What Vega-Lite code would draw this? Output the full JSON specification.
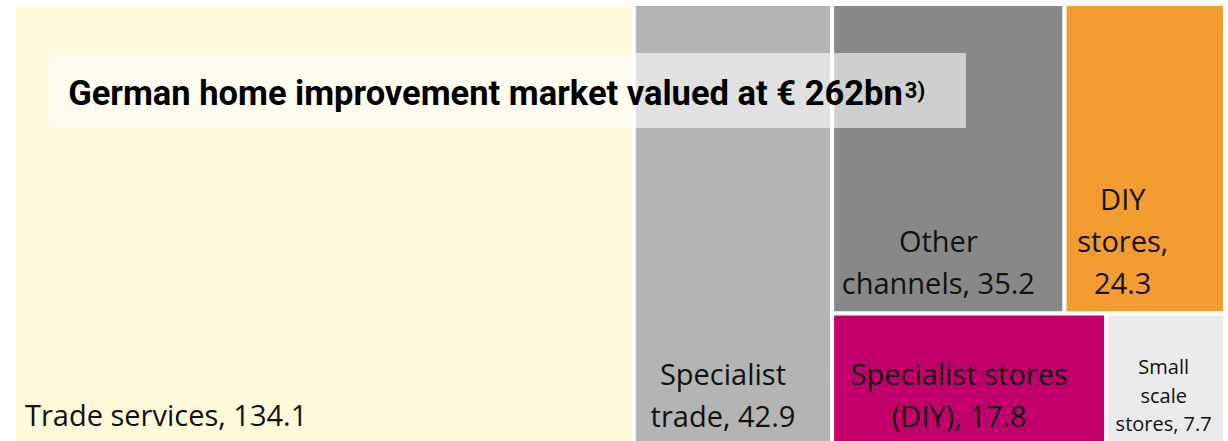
{
  "$schema": "https://vega.github.io/schema/vega-lite/v6.json",
  "width": 1211,
  "height": 442,
  "padding": {"left": 14, "top": 4, "right": 3, "bottom": 0},
  "autosize": {"type": "none"},
  "background": "white",
  "config": {"view": {"stroke": null}},
  "layer": [
    {
      "data": {
        "values": [
          {"name": "Trade services", "value": 134.1, "col": 1, "row": 1, "ord": 1, "label": "Trade services, 134.1"},
          {"name": "Specialist trade", "value": 42.9, "col": 2, "row": 1, "ord": 1, "label": "Specialist\ntrade, 42.9"},
          {"name": "Other channels", "value": 35.2, "col": 3, "row": 1, "ord": 1, "label": "Other\nchannels, 35.2"},
          {"name": "DIY stores", "value": 24.3, "col": 3, "row": 1, "ord": 2, "label": "DIY\nstores,\n24.3"},
          {"name": "Specialist stores (DIY)", "value": 17.8, "col": 3, "row": 2, "ord": 1, "label": "Specialist stores\n(DIY), 17.8"},
          {"name": "Small scale stores", "value": 7.7, "col": 3, "row": 2, "ord": 2, "label": "Small\nscale\nstores, 7.7"}
        ]
      },
      "transform": [
        {"stack": "value", "groupby": [], "sort": [{"field": "col"}, {"field": "row"}, {"field": "ord"}], "as": ["s0", "s1"]},
        {"joinaggregate": [{"op": "min", "field": "s0", "as": "cx0"}, {"op": "max", "field": "s1", "as": "cx1"}], "groupby": ["col"]},
        {"stack": "value", "groupby": ["col"], "sort": [{"field": "row"}, {"field": "ord"}], "offset": "normalize", "as": ["r0", "r1"]},
        {"joinaggregate": [{"op": "min", "field": "r0", "as": "y0"}, {"op": "max", "field": "r1", "as": "y1"}], "groupby": ["col", "row"]},
        {"stack": "value", "groupby": ["col", "row"], "sort": [{"field": "ord"}], "offset": "normalize", "as": ["f0", "f1"]},
        {"calculate": "datum.cx0 + datum.f0 * (datum.cx1 - datum.cx0)", "as": "x0"},
        {"calculate": "datum.cx0 + datum.f1 * (datum.cx1 - datum.cx0)", "as": "x1"},
        {"calculate": "(datum.x0 + datum.x1) / 2", "as": "xm"}
      ],
      "layer": [
        {
          "mark": {"type": "rect", "stroke": "white", "strokeWidth": 4},
          "encoding": {
            "x": {"field": "x0", "type": "quantitative", "scale": {"domain": [0, 262], "nice": false, "zero": false}, "axis": null},
            "x2": {"field": "x1"},
            "y": {"field": "y0", "type": "quantitative", "scale": {"domain": [0, 1], "reverse": true, "nice": false}, "axis": null},
            "y2": {"field": "y1"},
            "color": {
              "field": "name", "type": "nominal", "legend": null,
              "scale": {
                "domain": ["Trade services", "Specialist trade", "Other channels", "DIY stores", "Specialist stores (DIY)", "Small scale stores"],
                "range": ["#FEF9D8", "#B4B4B4", "#888888", "#F39C2F", "#C1006B", "#EBEBEB"]
              }
            }
          }
        },
        {
          "transform": [{"filter": "datum.name === 'Trade services'"}],
          "mark": {"type": "text", "align": "left", "baseline": "alphabetic", "dx": 11, "dy": -20, "font": "Open Sans", "fontSize": 29, "color": "#111111", "lineBreak": "\n", "lineHeight": 42},
          "encoding": {
            "x": {"field": "x0", "type": "quantitative"},
            "y": {"field": "y1", "type": "quantitative"},
            "text": {"field": "label"}
          }
        },
        {
          "transform": [{"filter": "datum.name === 'Specialist trade' || datum.name === 'Other channels' || datum.name === 'Specialist stores (DIY)'"}],
          "mark": {"type": "text", "align": "center", "baseline": "alphabetic", "dx": -10, "dy": -61, "font": "Open Sans", "fontSize": 29, "color": "#111111", "lineBreak": "\n", "lineHeight": 42},
          "encoding": {
            "x": {"field": "xm", "type": "quantitative"},
            "y": {"field": "y1", "type": "quantitative"},
            "text": {"field": "label"}
          }
        },
        {
          "transform": [{"filter": "datum.name === 'DIY stores'"}],
          "mark": {"type": "text", "align": "center", "baseline": "alphabetic", "dx": -22, "dy": -103, "font": "Open Sans", "fontSize": 29, "color": "#111111", "lineBreak": "\n", "lineHeight": 42},
          "encoding": {
            "x": {"field": "xm", "type": "quantitative"},
            "y": {"field": "y1", "type": "quantitative"},
            "text": {"field": "label"}
          }
        },
        {
          "transform": [{"filter": "datum.name === 'Small scale stores'"}],
          "mark": {"type": "text", "align": "center", "baseline": "alphabetic", "dx": -2, "dy": -72, "font": "Open Sans", "fontSize": 20, "color": "#111111", "lineBreak": "\n", "lineHeight": 28.5},
          "encoding": {
            "x": {"field": "xm", "type": "quantitative"},
            "y": {"field": "y1", "type": "quantitative"},
            "text": {"field": "label"}
          }
        }
      ]
    },
    {
      "data": {"values": [{"t": "box"}]},
      "mark": {"type": "rect", "color": "white", "opacity": 0.6},
      "encoding": {
        "x": {"datum": 7.43, "type": "quantitative"},
        "x2": {"datum": 205.97},
        "y": {"datum": 0.111, "type": "quantitative"},
        "y2": {"datum": 0.2805}
      }
    },
    {
      "data": {"values": [{"t": "German home improvement market valued at € 262bn", "s": "3)"}]},
      "layer": [
        {
          "mark": {"type": "text", "align": "right", "baseline": "alphabetic", "dx": -1, "font": "Roboto", "fontWeight": "bold", "fontSize": 34.5, "color": "#000000"},
          "encoding": {
            "x": {"datum": 192.5, "type": "quantitative"},
            "y": {"datum": 0.2285, "type": "quantitative"},
            "text": {"field": "t"}
          }
        },
        {
          "mark": {"type": "text", "align": "left", "baseline": "alphabetic", "dx": 1, "dy": -7, "font": "Roboto", "fontWeight": "bold", "fontSize": 22, "color": "#000000"},
          "encoding": {
            "x": {"datum": 192.5, "type": "quantitative"},
            "y": {"datum": 0.2285, "type": "quantitative"},
            "text": {"field": "s"}
          }
        }
      ]
    }
  ]
}
